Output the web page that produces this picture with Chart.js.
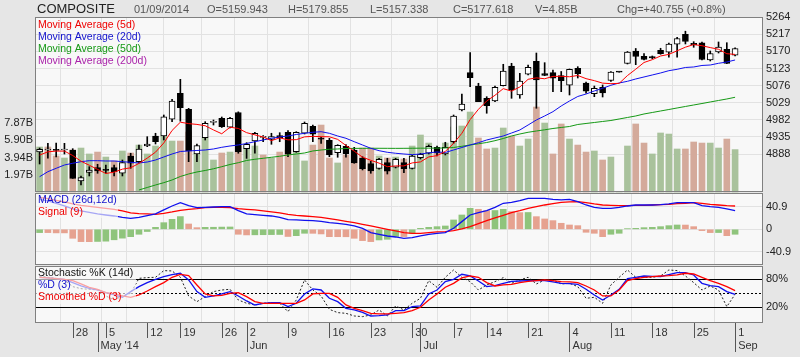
<!DOCTYPE html>
<html><head><meta charset="utf-8">
<script src="https://cdn.jsdelivr.net/npm/chart.js@4.4.1/dist/chart.umd.min.js"></script>
<style>html,body{margin:0;padding:0;background:#e6e6e6;}canvas{display:block;}</style>
</head><body>
<canvas id="c" width="800" height="357"></canvas>
<script>
// ---------------- DATA ----------------
const dates = ['2014-04-22','2014-04-23','2014-04-24','2014-04-25','2014-04-28','2014-04-29','2014-04-30','2014-05-02','2014-05-05','2014-05-06','2014-05-07','2014-05-08','2014-05-09','2014-05-12','2014-05-13','2014-05-14','2014-05-16','2014-05-19','2014-05-20','2014-05-21','2014-05-22','2014-05-23','2014-05-26','2014-05-28','2014-05-30','2014-06-02','2014-06-03','2014-06-04','2014-06-05','2014-06-06','2014-06-09','2014-06-10','2014-06-11','2014-06-12','2014-06-13','2014-06-16','2014-06-17','2014-06-18','2014-06-19','2014-06-20','2014-06-23','2014-06-24','2014-06-25','2014-06-26','2014-06-27','2014-06-30','2014-07-01','2014-07-02','2014-07-03','2014-07-04','2014-07-07','2014-07-08','2014-07-10','2014-07-11','2014-07-14','2014-07-15','2014-07-16','2014-07-17','2014-07-18','2014-07-21','2014-07-22','2014-07-23','2014-07-24','2014-07-25','2014-08-04','2014-08-05','2014-08-06','2014-08-07','2014-08-08','2014-08-11','2014-08-12','2014-08-13','2014-08-14','2014-08-15','2014-08-18','2014-08-19','2014-08-20','2014-08-21','2014-08-22','2014-08-25','2014-08-26','2014-08-27','2014-08-28','2014-08-29','2014-09-01'];

const open = [4893.5,4899.0,4899.0,4899.0,4899.0,4813.8,4837.7,4850.4,4844.0,4850.4,
 4835.0,4882.5,4867.0,4910.0,4937.5,4937.5,4983.4,5054.9,5010.9,4888.0,
 4932.8,4975.0,4986.1,4961.4,5002.0,4902.6,4923.8,4933.5,4928.4,4938.3,
 4947.7,4894.4,4945.0,4964.2,4929.3,4925.7,4891.6,4909.2,4899.0,4876.2,
 4861.4,4848.7,4864.1,4851.5,4864.1,4848.7,4877.9,4890.0,4906.4,4888.0,
 4921.8,5009.0,5111.5,5074.9,5041.1,5033.7,5075.8,5129.9,5050.2,5107.1,
 5142.8,5108.7,5111.5,5103.8,5076.9,5123.6,5083.2,5053.8,5071.4,5090.0,
 5113.4,5136.8,5171.1,5156.6,5155.5,5173.1,5167.8,5189.8,5217.0,5192.3,
 5193.7,5146.4,5168.9,5175.8,5159.943];
const high = [4904.5,4917.4,4918.3,4917.4,4902.6,4827.6,4853.1,4859.7,4857.8,4857.8,
 4871.5,4890.0,4912.8,4935.6,4945.0,4995.2,5038.4,5093.3,5013.6,4915.5,
 4976.8,4981.5,4989.7,4988.9,5003.9,4919.1,4947.7,4938.3,4945.0,4946.6,
 4952.1,4949.3,4976.0,4967.7,4934.0,4931.2,4913.6,4913.6,4906.4,4880.6,
 4868.0,4876.2,4876.2,4876.2,4876.2,4884.4,4890.0,4912.8,4910.0,4920.2,
 4995.2,5052.9,5166.5,5082.4,5045.5,5074.9,5134.6,5137.3,5109.8,5132.7,
 5165.6,5139.0,5118.9,5114.8,5121.7,5128.0,5085.9,5074.9,5077.7,5114.8,
 5113.6,5169.8,5178.0,5164.3,5157.4,5178.6,5193.1,5208.8,5225.5,5196.7,
 5195.9,5171.1,5195.9,5193.9,5179.855];
const low = [4860.5,4876.2,4879.8,4888.0,4821.0,4802.8,4827.6,4835.0,4835.0,4827.6,
 4827.6,4848.7,4864.1,4908.1,4915.5,4926.5,4976.8,4978.0,4866.9,4866.9,
 4926.5,4967.7,4960.9,4959.5,4890.0,4876.0,4890.0,4921.8,4914.7,4921.8,
 4880.6,4892.7,4943.0,4921.8,4917.4,4880.6,4879.0,4879.0,4862.5,4844.1,
 4835.0,4846.0,4833.0,4849.6,4836.6,4846.8,4874.3,4888.0,4882.5,4885.3,
 4917.4,5006.2,5073.0,5031.8,5000.0,5031.8,5074.9,5041.1,5041.1,5105.2,
 5013.7,5103.2,5059.3,5059.3,5050.2,5096.9,5054.9,5045.5,5044.7,5087.3,
 5112.9,5135.4,5133.5,5146.4,5150.0,5162.1,5154.1,5153.8,5190.4,5181.3,
 5146.4,5143.7,5165.6,5136.5,5157.338];
const close = [4901.0,4899.5,4898.0,4899.5,4821.2,4822.9,4844.1,4841.3,4843.0,4839.4,
 4864.1,4862.5,4901.8,4915.5,4921.8,4990.5,5033.7,5015.3,4896.3,4910.8,
 4972.4,4975.5,4963.0,4986.1,4894.4,4914.7,4944.9,4933.9,4935.6,4932.8,
 4887.2,4947.7,4972.4,4942.2,4929.0,4885.3,4911.9,4888.8,4863.3,4847.6,
 4841.3,4873.5,4840.5,4873.5,4847.6,4882.5,4887.2,4909.2,4890.8,4906.4,
 4992.5,5025.5,5097.7,5031.8,5020.8,5071.4,5116.2,5063.9,5088.7,5126.3,
 5091.4,5103.8,5096.1,5089.5,5120.8,5108.7,5060.4,5068.6,5055.7,5112.9,
 5113.2,5167.8,5156.0,5147.8,5151.9,5163.7,5189.8,5205.5,5197.2,5187.6,
 5147.8,5164.3,5182.1,5136.863,5177.618];
// volume in billions
const volume = [5.15,5.15,4.12,3.89,4.80,5.03,4.35,4.57,4.00,3.55,
 4.69,4.46,5.37,4.35,5.26,6.86,5.83,5.83,6.86,4.46,
 6.18,3.66,4.46,4.57,5.26,5.26,5.26,4.23,3.89,4.57,
 4.80,5.37,3.55,5.37,7.66,3.89,3.32,4.23,4.12,5.03,
 5.03,4.12,3.89,4.00,3.77,5.26,6.52,5.60,4.57,5.60,
 7.43,7.55,9.15,6.18,4.92,5.03,7.32,6.40,5.26,6.06,
 9.72,7.89,4.35,7.78,6.06,5.37,4.57,4.69,3.66,4.00,
 0,5.26,7.78,5.60,4.35,6.75,6.63,4.92,4.92,5.72,
 5.60,5.60,5.03,6.06,4.85];
const ma5 = [4885.0,4894.0,4896.0,4896.0,4883.8,4868.2,4857.1,4845.8,4834.5,4838.1,
 4846.4,4850.1,4862.2,4876.7,4893.1,4918.4,4952.7,4975.4,4971.5,4969.3,
 4965.7,4954.1,4943.6,4961.6,4958.3,4946.7,4940.6,4934.8,4924.7,4932.4,
 4926.9,4927.4,4935.1,4936.5,4935.7,4935.3,4928.2,4911.4,4895.7,4879.4,
 4870.6,4862.9,4853.2,4855.3,4855.3,4863.5,4866.3,4880.0,4883.5,4895.2,
 4917.2,4944.9,4982.6,5010.8,5033.7,5049.4,5067.6,5060.8,5072.2,5093.3,
 5097.3,5094.8,5101.3,5101.4,5100.3,5103.8,5095.1,5089.6,5082.8,5081.3,
 5082.2,5103.6,5121.1,5139.5,5147.3,5157.4,5161.8,5171.7,5181.6,5188.8,
 5185.6,5180.5,5175.8,5163.7,5161.7];
const ma20 = [4825.6,4839.4,4848.7,4857.8,4862.5,4866.9,4869.6,4869.6,4868.8,4868.8,
 4866.9,4865.2,4863.3,4866.0,4871.5,4879.8,4888.0,4894.9,4896.3,4897.7,
 4899.0,4901.8,4906.4,4910.0,4912.8,4916.9,4921.8,4926.5,4931.2,4934.8,
 4937.5,4941.6,4944.9,4947.7,4949.3,4944.9,4937.5,4931.2,4921.8,4912.8,
 4903.7,4897.1,4892.7,4890.0,4888.0,4886.3,4888.0,4891.2,4893.5,4892.2,
 4899.0,4905.9,4912.8,4919.1,4926.5,4932.0,4937.5,4945.7,4954.0,4967.7,
 4981.5,4992.5,5004.3,5020.0,5033.7,5046.1,5052.9,5061.2,5068.6,5076.9,
 5083.2,5087.8,5094.2,5099.7,5105.2,5110.7,5117.0,5120.8,5125.8,5127.2,
 5131.3,5132.6,5137.3,5140.9,5146.4];
const ma50 = [null,null,null,null,null,null,null,null,null,null,null,null,
 4789.1,4796.0,4802.8,4809.2,4816.6,4826.2,4833.1,4838.6,
 4842.7,4847.4,4853.1,4859.2,4864.1,4870.2,4873.5,4876.2,4879.0,4881.7,
 4885.3,4888.0,4890.8,4896.3,4899.0,4901.0,4901.8,4903.1,4903.4,4903.6,
 4903.8,4903.7,4903.6,4903.5,4903.6,4903.8,4904.0,4904.1,4904.2,4904.5,
 4905.9,4909.2,4912.8,4916.1,4919.6,4924.6,4930.6,4937.5,4943.0,4947.7,
 4951.2,4954.5,4958.1,4960.9,4963.6,4969.1,4971.9,4974.6,4977.4,4980.1,
 4984.2,4988.4,4992.5,4998.0,5002.1,5006.2,5010.3,5014.5,5018.6,5022.7,
 5026.8,5031.0,5035.1,5039.2,5043.9];
const macd = [54.3,51.3,47.1,42.2,36.8,33.2,30.8,27.8,25.9,24.1,
 21.7,19.9,21.7,24.7,27.8,35.0,42.2,48.3,42.8,39.2,
 39.8,40.4,41.0,41.0,33.8,27.8,26.5,25.3,24.1,21.7,
 17.5,16.9,16.3,15.7,14.5,12.1,10.9,9.0,6.0,1.8,
 -6.0,-9.0,-12.1,-13.9,-16.3,-15.1,-12.1,-9.0,-7.2,-6.0,
 1.8,13.9,25.9,30.2,33.8,39.8,47.1,48.9,51.9,56.1,
 56.1,56.1,54.3,53.1,54.3,50.1,44.0,39.8,38.0,38.0,
 39.8,42.2,44.0,44.0,44.0,44.6,45.9,48.3,48.3,48.3,
 42.8,41.0,39.8,36.8,33.8];
const signal = [57.9,55.5,52.5,49.5,45.9,43.4,41.6,39.8,38.0,36.2,
 33.2,29.6,28.4,27.8,27.1,29.0,31.4,34.4,36.2,37.4,
 39.2,39.8,39.8,39.2,37.4,36.2,35.0,33.2,31.4,29.6,
 27.1,25.3,24.1,22.9,21.7,19.3,16.9,14.5,12.1,9.0,
 6.0,3.0,0.0,-3.0,-6.0,-7.2,-7.2,-6.0,-4.8,-4.2,
 -2.4,0.6,4.8,10.3,15.7,20.5,25.3,30.2,33.8,38.0,
 41.0,44.0,46.5,48.9,49.5,50.1,48.3,45.9,44.0,43.4,
 42.8,42.8,43.4,43.4,44.0,44.6,45.2,46.5,47.1,48.3,
 47.1,45.2,44.0,42.8,42.2];
const hist = [-6.0,-6.0,-6.5,-6.5,-16.3,-22.3,-22.4,-22.0,-21.5,-19.0,
 -16.0,-13.3,-9.0,-4.0,3.6,12.0,18.0,23.0,9.6,3.0,
 3.6,3.7,4.0,4.2,-9.0,-10.2,-10.0,-9.8,-9.6,-9.4,
 -13.0,-11.5,-7.2,-7.3,-8.4,-13.3,-13.4,-13.5,-16.3,-20.5,
 -22.3,-19.3,-18.1,-13.0,-13.2,-7.2,1.8,3.6,4.8,6.0,
 16.9,25.9,38.0,36.2,33.8,34.0,36.2,32.0,30.2,30.4,
 22.9,18.7,15.7,10.9,7.8,6.6,-5.4,-7.2,-13.3,-9.0,
 -7.2,1.2,1.8,3.0,3.6,4.8,6.6,7.8,7.7,4.8,
 -2.4,-6.0,-5.9,-11.5,-9.0];
const stochK = [87.1,84.3,82.1,78.6,64.3,60.0,58.6,57.1,44.3,35.7,
 44.3,50.0,82.1,83.6,84.3,98.6,97.9,84.3,44.3,32.1,
 42.9,53.6,57.1,58.6,35.7,28.6,25.0,28.6,30.0,28.6,
 10.7,35.7,78.6,57.1,44.3,15.7,8.6,7.1,1.4,0.0,
 3.6,14.3,1.4,22.9,14.3,28.6,39.3,77.1,62.9,84.3,
 100.0,84.3,75.0,57.1,67.9,75.0,83.6,71.4,78.6,84.3,
 70.0,78.6,78.6,70.0,71.4,64.3,39.3,41.4,28.6,67.9,
 84.3,100.0,84.3,84.3,84.3,87.1,100.0,98.6,87.1,72.9,
 57.1,65.7,57.1,21.4,47.9];
const stochD = [84.3,82.9,81.4,80.0,72.9,65.7,60.7,57.1,51.4,46.4,
 41.4,53.6,64.3,72.9,80.0,85.7,90.0,92.9,78.6,53.6,
 41.4,44.3,48.6,53.6,44.3,33.6,25.0,28.6,30.0,30.0,
 21.4,28.6,48.6,59.3,57.1,39.3,32.1,17.9,14.3,9.3,
 1.4,2.1,3.6,12.9,12.9,21.4,22.9,48.6,57.1,75.0,
 80.0,90.7,87.1,76.4,64.3,66.4,71.4,75.7,76.4,77.1,
 77.1,77.1,74.3,71.4,70.7,69.3,58.6,46.4,35.7,46.4,
 58.6,81.4,84.3,87.1,86.4,85.7,90.0,94.3,94.3,89.3,
 71.4,66.4,64.3,53.6,47.9];
const stochSD = [84.3,82.9,81.4,80.0,77.1,70.0,62.9,58.6,51.4,48.6,
 44.3,41.4,46.4,55.0,64.3,72.9,84.3,90.7,87.9,67.9,
 48.6,44.3,45.7,50.0,51.4,42.9,32.1,28.6,28.6,28.6,
 28.6,28.6,35.7,48.6,50.0,50.0,41.4,25.0,17.9,12.9,
 7.1,5.7,5.7,7.1,8.6,12.9,20.0,35.7,48.6,62.9,
 71.4,82.9,87.1,84.3,72.9,65.7,67.9,69.3,72.9,75.7,
 77.1,78.6,77.1,75.0,74.3,72.9,65.7,57.1,44.3,44.3,
 57.1,77.1,81.4,84.3,85.7,87.1,87.9,89.3,92.9,91.4,
 84.3,77.1,71.4,64.3,55.7];

const priceTicks = [4888,4935,4982,5029,5076,5123,5170,5217,5264];
const volTicks = [1.97,3.94,5.90,7.87];
const volTickLabels = ['1.97B','3.94B','5.90B','7.87B'];
const macdTicks = [-40.9,0,40.9];
const stochTicks = [20,50,80];
const dayTickIdx = [4,8,13,17,22,25,30,35,40,45,50,54,59,64,69,74,79,84];
const dayTickLabels = ['28','5','12','19','26','2','9','16','23','30','7','14','21','4','11','18','25','1'];
const monthTickIdx = [7,25,46,64,84];
const monthTickLabels = ["May '14",'Jun','Jul','Aug','Sep'];
const symbol = 'COMPOSITE';

// ---------------- LAYOUT / STYLE ----------------
const FONT = "'Liberation Sans', Arial, sans-serif";
Chart.defaults.font.family = FONT;
const PLOT_TOP = 17, PLOT_BOTTOM = 323;
const BANDS = {P:{top:17,bottom:192}, M:{top:192,bottom:265}, S:{top:265,bottom:323}};
const PANELS = [{top:17,bottom:192},{top:193,bottom:265},{top:266,bottom:323}];
// value range of an axis whose band runs from top..bottom, given two value/pixel anchors
function bandRange(vA, yA, vB, yB, top, bottom){
  const k = (vA - vB) / (yB - yA);
  return {max: vA + (yA - top) * k, min: vA - (bottom - yA) * k};
}
const rP = bandRange(5264, 17.2, 4888, 154.0, BANDS.P.top, BANDS.P.bottom);
const rV = bandRange(7.87, 123.2, 0, 192, PLOT_TOP, PLOT_BOTTOM);
const rM = bandRange(40.9, 206.7, 0, 229.3, BANDS.M.top, BANDS.M.bottom);
const rS = bandRange(80, 279.3, 20, 307.3, BANDS.S.top, BANDS.S.bottom);

const GRID = '#e2e2e2';
const VOL_UP = '#a9c29c', VOL_DN = '#d4aa9b';
const H_UP = '#8fc47c', H_DN = '#e6a290';

const N = dates.length;
const idx = dates.map((d,i)=>i);
const pts = arr => idx.map(i => ({x:i, y:arr[i]}));
const upDay = i => i === 0 ? close[0] >= open[0] : close[i] >= close[i-1];

const allTicks = [...new Set([...dayTickIdx, ...monthTickIdx])].sort((a,b)=>a-b);

function yAxis(pos, range, vals, fmt, gridOpt, pad, width, stackW){
  const o = {
    type:'linear', position:pos, min:range.min, max:range.max,
    afterFit: s => { s.width = width; },
    afterBuildTicks: s => { s.ticks = vals.map(v => ({value:v})); },
    ticks:{callback:fmt, padding:pad, color:'#222', font:{size:11}, autoSkip:false},
    grid: Object.assign({drawTicks:false}, gridOpt),
    border:{display:false}
  };
  if (stackW) { o.stack = 'right'; o.stackWeight = stackW; }
  return o;
}

const lineDs = (arr, color, axis, width, order, extra) => Object.assign({
  type:'line', data:pts(arr), yAxisID:axis, borderColor:color, borderWidth:width,
  pointRadius:0, tension:0, fill:false, order:order
}, extra||{});

const deco = {
  id:'deco',
  beforeDraw(chart){
    const c = chart.ctx, a = chart.chartArea;
    c.save();
    c.fillStyle = '#e6e6e6'; c.fillRect(0,0,chart.width,chart.height);
    c.fillStyle = '#f8f8f8';
    PANELS.forEach(p => c.fillRect(a.left, p.top, a.right-a.left, p.bottom-p.top));
    c.restore();
  },
  beforeDatasetsDraw(chart){
    const c = chart.ctx, a = chart.chartArea, ys = chart.scales.yS;
    const y = Math.round(ys.getPixelForValue(50)) + 0.5;
    c.save(); c.strokeStyle = '#000'; c.lineWidth = 1; c.setLineDash([2,2]);
    c.beginPath(); c.moveTo(a.left, y); c.lineTo(a.right, y); c.stroke(); c.restore();
  },
  afterDraw(chart){
    const c = chart.ctx, a = chart.chartArea, xs = chart.scales.x;
    c.save();
    c.strokeStyle = '#808080'; c.lineWidth = 1;
    PANELS.forEach(p => c.strokeRect(a.left+0.5, p.top+0.5, a.right-a.left, p.bottom-p.top-1));
    c.strokeStyle = '#555';
    allTicks.forEach(v => {
      const x = Math.round(xs.getPixelForValue(v)) + 0.5;
      const isMonth = monthTickIdx.includes(v);
      c.beginPath(); c.moveTo(x, PLOT_BOTTOM); c.lineTo(x, isMonth ? 352 : 338); c.stroke();
    });
    const L = N-1;
    const chg = close[L] - close[L-1];
    const pct = chg / close[L-1] * 100;
    const d = dates[L].split('-');
    c.textBaseline = 'alphabetic';
    c.fillStyle = '#222'; c.font = '13px ' + FONT; c.fillText(symbol, 37, 13);
    c.fillStyle = '#555'; c.font = '11px ' + FONT;
    const hdr = [
      [d[2]+'/'+d[1]+'/'+d[0], 134],
      ['O='+open[L].toFixed(3), 207],
      ['H='+high[L].toFixed(3), 288],
      ['L='+low[L].toFixed(3), 370],
      ['C='+close[L].toFixed(3), 453],
      ['V='+volume[L].toFixed(2)+'B', 535],
      ['Chg='+(chg>=0?'+':'')+chg.toFixed(3)+' ('+(pct>=0?'+':'')+pct.toFixed(1)+'%)', 617]
    ];
    hdr.forEach(h => c.fillText(h[0], h[1], 13));
    c.font = '10.5px ' + FONT; c.textBaseline = 'middle';
    const leg = (items, x, y0) => items.forEach((it,k) => { c.fillStyle = it[1]; c.fillText(it[0], x, y0 + k*12); });
    leg([['Moving Average (5d)','#ee0000'],['Moving Average (20d)','#1111cc'],['Moving Average (50d)','#159915'],['Moving Average (200d)','#aa22aa']], 38, 25.5);
    c.fillStyle = 'rgba(248,248,248,0.65)';
    c.fillRect(a.left+1, 194, 82, 24);
    c.fillRect(a.left+1, 267, 100, 37);
    leg([['MACD (26d,12d)','#1111cc'],['Signal (9)','#ee0000']], 38, 200.5);
    leg([['Stochastic %K (14d)','#111'],['%D (3)','#1111cc'],['Smoothed %D (3)','#ee0000']], 38, 273.5);
    c.restore();
  }
};

new Chart(document.getElementById('c'), {
  type:'bar',
  data:{ datasets:[
    {type:'bar', label:'Volume', data:pts(volume), yAxisID:'yV', grouped:false, barThickness:6,
     backgroundColor: idx.map(i => upDay(i) ? VOL_UP : VOL_DN), order:20},
    {type:'bar', label:'Range', data:idx.map(i=>({x:i, y:[low[i], high[i]]})), yAxisID:'yP', grouped:false,
     barThickness:1, backgroundColor:'#000', order:12},
    {type:'bar', label:'Body', data:idx.map(i=>({x:i, y:[open[i], close[i]]})), yAxisID:'yP', grouped:false,
     barThickness:6, minBarLength:1, borderSkipped:false, borderWidth:1, borderColor:'#000',
     backgroundColor: idx.map(i => close[i] >= open[i] ? '#ffffff' : '#000000'), order:11},
    lineDs(ma50, '#159915', 'yP', 1, 5),
    lineDs(ma20, '#1010ee', 'yP', 1, 4),
    lineDs(ma5, '#ff0000', 'yP', 1, 3),
    {type:'bar', label:'Hist', data:pts(hist), yAxisID:'yM', grouped:false, barThickness:6,
     backgroundColor: idx.map(i => (i===0 || hist[i] > hist[i-1]) ? H_UP : H_DN), order:20},
    lineDs(signal, '#ff0000', 'yM', 1.3, 3),
    lineDs(macd, '#1010ee', 'yM', 1.3, 2),
    lineDs(stochK, '#222', 'yS', 1, 6, {borderDash:[2,2]}),
    lineDs(stochD, '#1010ee', 'yS', 1.3, 4),
    lineDs(stochSD, '#ff0000', 'yS', 1.3, 3)
  ]},
  options:{
    responsive:false, animation:false, devicePixelRatio:1,
    layout:{padding:{left:0, right:0, top:17, bottom:0}},
    plugins:{legend:{display:false}, tooltip:{enabled:false}},
    scales:{
      x:{type:'linear', position:'bottom', min:-0.556, max:87.25, offset:false,
         afterFit: s => { s.height = 34; },
         afterBuildTicks: s => { s.ticks = allTicks.map(v => ({value:v})); },
         ticks:{autoSkip:false, maxRotation:0, minRotation:0, align:'start', padding:3, color:'#333', font:{size:11},
           callback: v => {
             const di = dayTickIdx.indexOf(v), mi = monthTickIdx.indexOf(v);
             const out = [di >= 0 ? ' ' + dayTickLabels[di] : ''];
             if (mi >= 0) out.push(' ' + monthTickLabels[mi]);
             return out;
           }},
         grid:{drawTicks:false, color: ctx => (ctx.tick && dayTickIdx.includes(ctx.tick.value)) ? GRID : 'rgba(0,0,0,0)'},
         border:{display:false}},
      yV: yAxis('left', rV, volTicks, v => volTickLabels[volTicks.indexOf(v)], {display:false}, 2, 35, 0),
      yP: yAxis('right', rP, priceTicks, v => String(v), {color:GRID}, 4, 38, 175),
      yM: yAxis('right', rM, macdTicks, v => v === 0 ? '0' : v.toFixed(1), {color:GRID}, 4, 38, 73),
      yS: yAxis('right', rS, stochTicks, v => v === 50 ? '' : v + '%', {color: ctx => (ctx.tick && ctx.tick.value === 50) ? 'rgba(0,0,0,0)' : '#000'}, 4, 38, 58)
    }
  },
  plugins:[deco]
});
</script>
</body></html>
